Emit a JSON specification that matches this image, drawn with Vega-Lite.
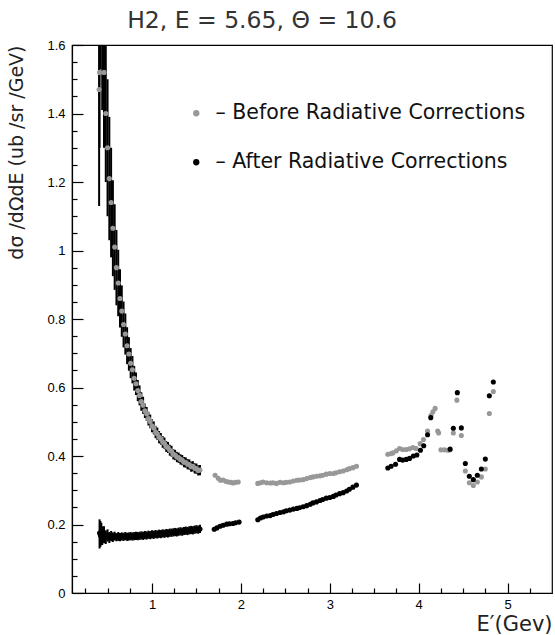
{
"$schema": "https://vega.github.io/schema/vega-lite/v6.json",
"width": 480, "height": 548,
"autosize": {"type": "none"},
"padding": {"left": 72, "top": 45, "right": 3, "bottom": 42},
"background": "white",
"config": {"view": {"stroke": "black", "strokeWidth": 1.2}, "font": "Liberation Sans"},
"title": {"text": "H2, E = 5.65, Θ = 10.6", "font": "DejaVu Sans", "fontSize": 23.5, "fontWeight": "normal", "color": "#333333", "anchor": "middle", "dx": -50, "offset": 7},
"data": {"values": [
{"E":0.405,"y":1.47,"s":"Before","lo":1.13,"hi":1.81},
{"E":0.41,"y":1.52,"s":"Before","lo":1.30,"hi":1.74},
{"E":0.42,"y":1.79,"s":"Before","lo":1.53,"hi":2.05},
{"E":0.44,"y":1.64,"s":"Before","lo":1.41,"hi":1.87},
{"E":0.46,"y":1.52,"s":"Before","lo":1.30,"hi":1.74},
{"E":0.48,"y":1.40,"s":"Before","lo":1.20,"hi":1.60},
{"E":0.50,"y":1.30,"s":"Before","lo":1.10,"hi":1.50},
{"E":0.52,"y":1.21,"s":"Before","lo":1.03,"hi":1.39},
{"E":0.54,"y":1.14,"s":"Before","lo":0.98,"hi":1.30},
{"E":0.56,"y":1.065,"s":"Before","lo":0.925,"hi":1.205},
{"E":0.58,"y":1.01,"s":"Before","lo":0.885,"hi":1.135},
{"E":0.60,"y":0.95,"s":"Before","lo":0.84,"hi":1.06},
{"E":0.62,"y":0.905,"s":"Before","lo":0.808,"hi":1.002},
{"E":0.64,"y":0.86,"s":"Before","lo":0.775,"hi":0.945},
{"E":0.66,"y":0.823,"s":"Before","lo":0.748,"hi":0.898},
{"E":0.68,"y":0.784,"s":"Before","lo":0.717,"hi":0.851},
{"E":0.70,"y":0.756,"s":"Before","lo":0.696,"hi":0.816},
{"E":0.72,"y":0.722,"s":"Before","lo":0.668,"hi":0.776},
{"E":0.74,"y":0.698,"s":"Before","lo":0.649,"hi":0.747},
{"E":0.76,"y":0.671,"s":"Before","lo":0.627,"hi":0.715},
{"E":0.78,"y":0.652,"s":"Before","lo":0.612,"hi":0.692},
{"E":0.80,"y":0.627,"s":"Before","lo":0.591,"hi":0.663},
{"E":0.82,"y":0.611,"s":"Before","lo":0.578,"hi":0.644},
{"E":0.84,"y":0.591,"s":"Before","lo":0.560,"hi":0.622},
{"E":0.86,"y":0.577,"s":"Before","lo":0.548,"hi":0.606},
{"E":0.88,"y":0.559,"s":"Before","lo":0.532,"hi":0.586},
{"E":0.90,"y":0.548,"s":"Before","lo":0.523,"hi":0.573},
{"E":0.92,"y":0.532,"s":"Before","lo":0.511,"hi":0.553},
{"E":0.94,"y":0.523,"s":"Before","lo":0.503,"hi":0.543},
{"E":0.96,"y":0.509,"s":"Before","lo":0.489,"hi":0.529},
{"E":0.98,"y":0.501,"s":"Before","lo":0.481,"hi":0.521},
{"E":1.00,"y":0.488,"s":"Before","lo":0.469,"hi":0.507},
{"E":1.02,"y":0.482,"s":"Before","lo":0.463,"hi":0.501},
{"E":1.04,"y":0.470,"s":"Before","lo":0.452,"hi":0.488},
{"E":1.06,"y":0.465,"s":"Before","lo":0.447,"hi":0.483},
{"E":1.08,"y":0.455,"s":"Before","lo":0.437,"hi":0.473},
{"E":1.10,"y":0.450,"s":"Before","lo":0.433,"hi":0.467},
{"E":1.12,"y":0.441,"s":"Before","lo":0.424,"hi":0.458},
{"E":1.14,"y":0.437,"s":"Before","lo":0.420,"hi":0.454},
{"E":1.16,"y":0.428,"s":"Before","lo":0.412,"hi":0.444},
{"E":1.18,"y":0.425,"s":"Before","lo":0.409,"hi":0.441},
{"E":1.20,"y":0.417,"s":"Before","lo":0.401,"hi":0.433},
{"E":1.22,"y":0.414,"s":"Before","lo":0.398,"hi":0.430},
{"E":1.24,"y":0.405,"s":"Before","lo":0.390,"hi":0.420},
{"E":1.26,"y":0.403,"s":"Before","lo":0.388,"hi":0.418},
{"E":1.28,"y":0.397,"s":"Before","lo":0.382,"hi":0.412},
{"E":1.30,"y":0.395,"s":"Before","lo":0.380,"hi":0.410},
{"E":1.32,"y":0.390,"s":"Before","lo":0.375,"hi":0.405},
{"E":1.34,"y":0.388,"s":"Before","lo":0.373,"hi":0.403},
{"E":1.36,"y":0.382,"s":"Before","lo":0.367,"hi":0.397},
{"E":1.38,"y":0.381,"s":"Before","lo":0.366,"hi":0.396},
{"E":1.40,"y":0.376,"s":"Before","lo":0.361,"hi":0.391},
{"E":1.42,"y":0.375,"s":"Before","lo":0.360,"hi":0.390},
{"E":1.44,"y":0.369,"s":"Before","lo":0.354,"hi":0.384},
{"E":1.46,"y":0.370,"s":"Before","lo":0.355,"hi":0.385},
{"E":1.48,"y":0.364,"s":"Before","lo":0.349,"hi":0.379},
{"E":1.50,"y":0.363,"s":"Before","lo":0.348,"hi":0.378},
{"E":1.52,"y":0.358,"s":"Before","lo":0.343,"hi":0.373},
{"E":1.54,"y":0.359,"s":"Before","lo":0.344,"hi":0.374},
{"E":1.71,"y":0.344,"s":"Before"},
{"E":1.745,"y":0.335,"s":"Before"},
{"E":1.77,"y":0.329,"s":"Before"},
{"E":1.80,"y":0.330,"s":"Before"},
{"E":1.83,"y":0.326,"s":"Before"},
{"E":1.86,"y":0.324,"s":"Before"},
{"E":1.89,"y":0.323,"s":"Before"},
{"E":1.91,"y":0.321,"s":"Before"},
{"E":1.94,"y":0.323,"s":"Before"},
{"E":1.97,"y":0.324,"s":"Before"},
{"E":2.19,"y":0.320,"s":"Before"},
{"E":2.22,"y":0.322,"s":"Before"},
{"E":2.25,"y":0.324,"s":"Before"},
{"E":2.29,"y":0.322,"s":"Before"},
{"E":2.33,"y":0.321,"s":"Before"},
{"E":2.36,"y":0.322,"s":"Before"},
{"E":2.40,"y":0.320,"s":"Before"},
{"E":2.44,"y":0.323,"s":"Before"},
{"E":2.48,"y":0.322,"s":"Before"},
{"E":2.51,"y":0.323,"s":"Before"},
{"E":2.55,"y":0.324,"s":"Before"},
{"E":2.59,"y":0.327,"s":"Before"},
{"E":2.63,"y":0.329,"s":"Before"},
{"E":2.66,"y":0.330,"s":"Before"},
{"E":2.70,"y":0.331,"s":"Before"},
{"E":2.74,"y":0.334,"s":"Before"},
{"E":2.78,"y":0.337,"s":"Before"},
{"E":2.81,"y":0.339,"s":"Before"},
{"E":2.85,"y":0.341,"s":"Before"},
{"E":2.89,"y":0.342,"s":"Before"},
{"E":2.92,"y":0.344,"s":"Before"},
{"E":2.96,"y":0.347,"s":"Before"},
{"E":3.00,"y":0.349,"s":"Before"},
{"E":3.04,"y":0.349,"s":"Before"},
{"E":3.07,"y":0.351,"s":"Before"},
{"E":3.11,"y":0.354,"s":"Before"},
{"E":3.15,"y":0.356,"s":"Before"},
{"E":3.19,"y":0.360,"s":"Before"},
{"E":3.22,"y":0.363,"s":"Before"},
{"E":3.26,"y":0.366,"s":"Before"},
{"E":3.30,"y":0.370,"s":"Before"},
{"E":3.653,"y":0.405,"s":"Before"},
{"E":3.69,"y":0.407,"s":"Before"},
{"E":3.71,"y":0.409,"s":"Before"},
{"E":3.75,"y":0.415,"s":"Before"},
{"E":3.785,"y":0.422,"s":"Before"},
{"E":3.82,"y":0.419,"s":"Before"},
{"E":3.86,"y":0.419,"s":"Before"},
{"E":3.897,"y":0.421,"s":"Before"},
{"E":3.934,"y":0.425,"s":"Before"},
{"E":3.97,"y":0.422,"s":"Before"},
{"E":4.017,"y":0.436,"s":"Before"},
{"E":4.054,"y":0.448,"s":"Before"},
{"E":4.10,"y":0.473,"s":"Before"},
{"E":4.14,"y":0.519,"s":"Before"},
{"E":4.16,"y":0.529,"s":"Before"},
{"E":4.185,"y":0.539,"s":"Before"},
{"E":4.214,"y":0.473,"s":"Before"},
{"E":4.225,"y":0.467,"s":"Before"},
{"E":4.25,"y":0.418,"s":"Before"},
{"E":4.29,"y":0.418,"s":"Before"},
{"E":4.33,"y":0.417,"s":"Before"},
{"E":4.35,"y":0.418,"s":"Before"},
{"E":4.39,"y":0.467,"s":"Before"},
{"E":4.43,"y":0.563,"s":"Before"},
{"E":4.48,"y":0.46,"s":"Before"},
{"E":4.525,"y":0.356,"s":"Before"},
{"E":4.57,"y":0.322,"s":"Before"},
{"E":4.615,"y":0.314,"s":"Before"},
{"E":4.66,"y":0.324,"s":"Before"},
{"E":4.705,"y":0.339,"s":"Before"},
{"E":4.75,"y":0.362,"s":"Before"},
{"E":4.795,"y":0.524,"s":"Before"},
{"E":4.84,"y":0.588,"s":"Before"},
{"E":0.41,"y":0.175,"s":"After","lo":0.13,"hi":0.215},
{"E":0.42,"y":0.168,"s":"After","lo":0.135,"hi":0.21},
{"E":0.43,"y":0.172,"s":"After","lo":0.14,"hi":0.205},
{"E":0.44,"y":0.165,"s":"After","lo":0.14,"hi":0.195},
{"E":0.46,"y":0.170,"s":"After","lo":0.145,"hi":0.195},
{"E":0.48,"y":0.163,"s":"After","lo":0.143,"hi":0.183},
{"E":0.50,"y":0.168,"s":"After","lo":0.15,"hi":0.186},
{"E":0.52,"y":0.162,"s":"After","lo":0.146,"hi":0.178},
{"E":0.54,"y":0.166,"s":"After","lo":0.151,"hi":0.181},
{"E":0.56,"y":0.163,"s":"After","lo":0.149,"hi":0.177},
{"E":0.58,"y":0.166,"s":"After","lo":0.153,"hi":0.179},
{"E":0.60,"y":0.163,"s":"After","lo":0.151,"hi":0.175},
{"E":0.62,"y":0.165,"s":"After","lo":0.152,"hi":0.178},
{"E":0.64,"y":0.163,"s":"After","lo":0.151,"hi":0.175},
{"E":0.66,"y":0.165,"s":"After","lo":0.153,"hi":0.177},
{"E":0.68,"y":0.164,"s":"After","lo":0.152,"hi":0.176},
{"E":0.70,"y":0.166,"s":"After","lo":0.154,"hi":0.178},
{"E":0.72,"y":0.164,"s":"After","lo":0.152,"hi":0.176},
{"E":0.74,"y":0.165,"s":"After","lo":0.153,"hi":0.177},
{"E":0.76,"y":0.166,"s":"After","lo":0.154,"hi":0.178},
{"E":0.78,"y":0.165,"s":"After","lo":0.153,"hi":0.177},
{"E":0.80,"y":0.166,"s":"After","lo":0.154,"hi":0.178},
{"E":0.82,"y":0.167,"s":"After","lo":0.155,"hi":0.179},
{"E":0.84,"y":0.166,"s":"After","lo":0.154,"hi":0.178},
{"E":0.86,"y":0.167,"s":"After","lo":0.155,"hi":0.179},
{"E":0.88,"y":0.168,"s":"After","lo":0.156,"hi":0.180},
{"E":0.90,"y":0.167,"s":"After","lo":0.155,"hi":0.179},
{"E":0.92,"y":0.169,"s":"After","lo":0.157,"hi":0.181},
{"E":0.94,"y":0.168,"s":"After","lo":0.156,"hi":0.180},
{"E":0.96,"y":0.170,"s":"After","lo":0.158,"hi":0.182},
{"E":0.98,"y":0.169,"s":"After","lo":0.157,"hi":0.181},
{"E":1.00,"y":0.171,"s":"After","lo":0.159,"hi":0.183},
{"E":1.02,"y":0.170,"s":"After","lo":0.158,"hi":0.182},
{"E":1.04,"y":0.172,"s":"After","lo":0.160,"hi":0.184},
{"E":1.06,"y":0.171,"s":"After","lo":0.159,"hi":0.183},
{"E":1.08,"y":0.173,"s":"After","lo":0.161,"hi":0.185},
{"E":1.10,"y":0.172,"s":"After","lo":0.160,"hi":0.184},
{"E":1.12,"y":0.174,"s":"After","lo":0.162,"hi":0.186},
{"E":1.14,"y":0.173,"s":"After","lo":0.161,"hi":0.185},
{"E":1.16,"y":0.175,"s":"After","lo":0.163,"hi":0.187},
{"E":1.18,"y":0.174,"s":"After","lo":0.162,"hi":0.186},
{"E":1.20,"y":0.176,"s":"After","lo":0.164,"hi":0.188},
{"E":1.22,"y":0.176,"s":"After","lo":0.164,"hi":0.188},
{"E":1.24,"y":0.177,"s":"After","lo":0.165,"hi":0.189},
{"E":1.26,"y":0.178,"s":"After","lo":0.166,"hi":0.190},
{"E":1.28,"y":0.177,"s":"After","lo":0.165,"hi":0.189},
{"E":1.30,"y":0.179,"s":"After","lo":0.167,"hi":0.191},
{"E":1.32,"y":0.180,"s":"After","lo":0.168,"hi":0.192},
{"E":1.34,"y":0.179,"s":"After","lo":0.167,"hi":0.191},
{"E":1.36,"y":0.181,"s":"After","lo":0.169,"hi":0.193},
{"E":1.38,"y":0.182,"s":"After","lo":0.170,"hi":0.194},
{"E":1.40,"y":0.181,"s":"After","lo":0.169,"hi":0.193},
{"E":1.42,"y":0.183,"s":"After","lo":0.171,"hi":0.195},
{"E":1.44,"y":0.184,"s":"After","lo":0.172,"hi":0.196},
{"E":1.46,"y":0.183,"s":"After","lo":0.171,"hi":0.195},
{"E":1.48,"y":0.185,"s":"After","lo":0.173,"hi":0.197},
{"E":1.50,"y":0.186,"s":"After","lo":0.174,"hi":0.198},
{"E":1.52,"y":0.185,"s":"After","lo":0.173,"hi":0.197},
{"E":1.54,"y":0.187,"s":"After","lo":0.175,"hi":0.199},
{"E":1.70,"y":0.186,"s":"After"},
{"E":1.73,"y":0.190,"s":"After"},
{"E":1.765,"y":0.195,"s":"After"},
{"E":1.80,"y":0.198,"s":"After"},
{"E":1.84,"y":0.201,"s":"After"},
{"E":1.87,"y":0.202,"s":"After"},
{"E":1.91,"y":0.203,"s":"After"},
{"E":1.94,"y":0.205,"s":"After"},
{"E":1.98,"y":0.207,"s":"After"},
{"E":2.19,"y":0.214,"s":"After"},
{"E":2.22,"y":0.219,"s":"After"},
{"E":2.25,"y":0.222,"s":"After"},
{"E":2.29,"y":0.225,"s":"After"},
{"E":2.33,"y":0.226,"s":"After"},
{"E":2.36,"y":0.229,"s":"After"},
{"E":2.40,"y":0.232,"s":"After"},
{"E":2.44,"y":0.235,"s":"After"},
{"E":2.48,"y":0.237,"s":"After"},
{"E":2.51,"y":0.240,"s":"After"},
{"E":2.55,"y":0.242,"s":"After"},
{"E":2.59,"y":0.245,"s":"After"},
{"E":2.63,"y":0.247,"s":"After"},
{"E":2.66,"y":0.249,"s":"After"},
{"E":2.70,"y":0.252,"s":"After"},
{"E":2.74,"y":0.255,"s":"After"},
{"E":2.78,"y":0.259,"s":"After"},
{"E":2.81,"y":0.263,"s":"After"},
{"E":2.85,"y":0.266,"s":"After"},
{"E":2.89,"y":0.270,"s":"After"},
{"E":2.92,"y":0.273,"s":"After"},
{"E":2.96,"y":0.277,"s":"After"},
{"E":3.00,"y":0.279,"s":"After"},
{"E":3.04,"y":0.282,"s":"After"},
{"E":3.07,"y":0.286,"s":"After"},
{"E":3.11,"y":0.290,"s":"After"},
{"E":3.15,"y":0.293,"s":"After"},
{"E":3.19,"y":0.298,"s":"After"},
{"E":3.22,"y":0.303,"s":"After"},
{"E":3.26,"y":0.309,"s":"After"},
{"E":3.30,"y":0.315,"s":"After"},
{"E":3.653,"y":0.365,"s":"After"},
{"E":3.69,"y":0.370,"s":"After"},
{"E":3.74,"y":0.376,"s":"After"},
{"E":3.785,"y":0.390,"s":"After"},
{"E":3.82,"y":0.388,"s":"After"},
{"E":3.86,"y":0.390,"s":"After"},
{"E":3.897,"y":0.393,"s":"After"},
{"E":3.94,"y":0.400,"s":"After"},
{"E":3.98,"y":0.403,"s":"After"},
{"E":4.02,"y":0.417,"s":"After"},
{"E":4.057,"y":0.430,"s":"After"},
{"E":4.10,"y":0.462,"s":"After"},
{"E":4.136,"y":0.512,"s":"After"},
{"E":4.354,"y":0.420,"s":"After"},
{"E":4.39,"y":0.481,"s":"After"},
{"E":4.435,"y":0.585,"s":"After"},
{"E":4.48,"y":0.482,"s":"After"},
{"E":4.525,"y":0.378,"s":"After"},
{"E":4.57,"y":0.341,"s":"After"},
{"E":4.615,"y":0.331,"s":"After"},
{"E":4.66,"y":0.344,"s":"After"},
{"E":4.705,"y":0.362,"s":"After"},
{"E":4.75,"y":0.391,"s":"After"},
{"E":4.795,"y":0.576,"s":"After"},
{"E":4.84,"y":0.616,"s":"After"}
]},
"encoding": {
  "x": {"field": "E", "type": "quantitative", "scale": {"domain": [0.1, 5.5], "nice": false, "zero": false},
    "axis": {"title": "E′(Gev)", "values": [0.25,0.5,0.75,1,1.25,1.5,1.75,2,2.25,2.5,2.75,3,3.25,3.5,3.75,4,4.25,4.5,4.75,5,5.25],
      "labelExpr": "datum.value % 1 == 0 ? format(datum.value, 'd') : ''",
      "tickSize": {"condition": {"test": "datum.value % 1 == 0", "value": -10}, "value": -5},
      "grid": false, "domainColor": "black", "domainWidth": 1.2, "tickColor": "black", "tickWidth": 1.2,
      "labelFont": "Liberation Sans", "labelFontSize": 13, "labelColor": "black", "labelPadding": 15, "labelFlush": false,
      "titleFont": "DejaVu Sans", "titleFontSize": 21, "titleFontWeight": "normal", "titleColor": "#222222",
      "titleAnchor": "end", "titleAlign": "right", "titleX": 480, "titleY": 37, "titleBaseline": "alphabetic"}}
},
"layer": [
  {"transform": [{"filter": "isValid(datum.lo)"}],
   "mark": {"type": "rule", "color": "black", "strokeWidth": 2, "clip": true},
   "encoding": {
     "y": {"field": "lo", "type": "quantitative", "scale": {"domain": [0, 1.6], "nice": false},
       "axis": {"title": "dσ /dΩdE (ub /sr /GeV)",
         "values": [0,0.05,0.1,0.15,0.2,0.25,0.3,0.35,0.4,0.45,0.5,0.55,0.6,0.65,0.7,0.75,0.8,0.85,0.9,0.95,1,1.05,1.1,1.15,1.2,1.25,1.3,1.35,1.4,1.45,1.5,1.55,1.6],
         "labelExpr": "abs(datum.value*5 - round(datum.value*5)) < 0.001 ? format(datum.value, '~g') : ''",
         "tickSize": {"condition": {"test": "abs(datum.value*5 - round(datum.value*5)) < 0.001", "value": -11}, "value": -5},
         "grid": false, "domainColor": "black", "domainWidth": 1.2, "tickColor": "black", "tickWidth": 1.2,
         "labelFont": "Liberation Sans", "labelFontSize": 13, "labelColor": "black", "labelPadding": 18, "labelFlush": false,
         "titleFont": "DejaVu Sans", "titleFontSize": 19, "titleFontWeight": "normal", "titleColor": "#222222",
         "titleAnchor": "end", "titlePadding": 20}},
     "y2": {"field": "hi"}
   }},
  {"mark": {"type": "point", "filled": true, "size": 26, "opacity": 1, "clip": true},
   "encoding": {
     "y": {"field": "y", "type": "quantitative", "scale": {"domain": [0, 1.6], "nice": false},
       "axis": {"title": "dσ /dΩdE (ub /sr /GeV)",
         "values": [0,0.05,0.1,0.15,0.2,0.25,0.3,0.35,0.4,0.45,0.5,0.55,0.6,0.65,0.7,0.75,0.8,0.85,0.9,0.95,1,1.05,1.1,1.15,1.2,1.25,1.3,1.35,1.4,1.45,1.5,1.55,1.6],
         "labelExpr": "abs(datum.value*5 - round(datum.value*5)) < 0.001 ? format(datum.value, '~g') : ''",
         "tickSize": {"condition": {"test": "abs(datum.value*5 - round(datum.value*5)) < 0.001", "value": -11}, "value": -5},
         "grid": false, "domainColor": "black", "domainWidth": 1.2, "tickColor": "black", "tickWidth": 1.2,
         "labelFont": "Liberation Sans", "labelFontSize": 13, "labelColor": "black", "labelPadding": 18, "labelFlush": false,
         "titleFont": "DejaVu Sans", "titleFontSize": 19, "titleFontWeight": "normal", "titleColor": "#222222",
         "titleAnchor": "end", "titlePadding": 20}},
     "color": {"field": "s", "type": "nominal", "scale": {"domain": ["Before", "After"], "range": ["#989898", "#000000"]},
       "legend": {"orient": "none", "legendX": 114, "legendY": 58, "title": null,
         "labelExpr": "'– ' + datum.label + ' Radiative Corrections'",
         "labelFont": "DejaVu Sans", "labelFontSize": 20.5, "labelColor": "#111111", "labelLimit": 0,
         "symbolType": "circle", "symbolSize": 40, "symbolStrokeWidth": 0, "labelOffset": 9, "rowPadding": 28, "padding": 0}}
   }}
]
}
